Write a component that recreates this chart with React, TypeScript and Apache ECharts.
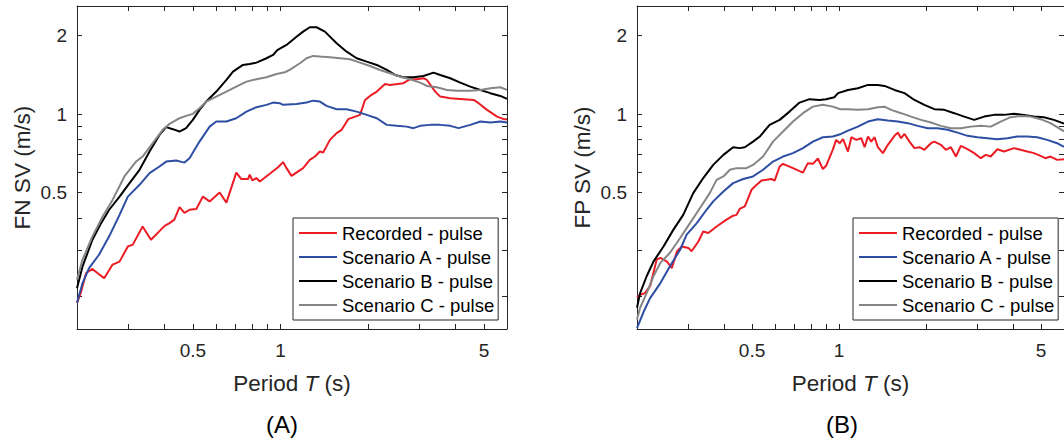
import React, { useEffect, useRef } from 'react';
import * as echarts from 'echarts';

const FONT = '"Liberation Sans", Arial, Helvetica, sans-serif';
const INK = '#262626';

// Axis definitions
const periodTicks = [0.3, 0.4, 0.5, 0.6, 0.7, 0.8, 0.9, 1, 2, 3, 4, 5];
const periodLabels = [0.5, 1, 5];
const svTicks = [0.2, 0.3, 0.4, 0.5, 0.6, 0.7, 0.8, 0.9, 1, 2];
const svLabels = [0.5, 1, 2];
const periodRange = [0.2, 6];
const svRange = [0.15, 2.6];

const seriesNames = ['Recorded - pulse', 'Scenario A - pulse', 'Scenario B - pulse', 'Scenario C - pulse'];
const seriesColors = ['#ec1c24', '#2e4ea3', '#000000', '#858585'];
const panelLabels = ['(A)', '(B)'];
const yTitles = ['FN SV (m/s)', 'FP SV (m/s)'];

// Panel A : fault-normal spectral velocity [period (s), SV (m/s)]
const fnRecorded = [[0.2,0.189],[0.206,0.206],[0.215,0.246],[0.226,0.255],[0.235,0.246],[0.248,0.235],[0.265,0.265],[0.28,0.272],[0.299,0.311],[0.311,0.316],[0.336,0.371],[0.359,0.33],[0.4,0.373],[0.416,0.382],[0.432,0.394],[0.45,0.44],[0.468,0.418],[0.487,0.43],[0.514,0.433],[0.541,0.483],[0.571,0.463],[0.618,0.501],[0.652,0.458],[0.705,0.597],[0.734,0.564],[0.774,0.564],[0.784,0.586],[0.801,0.557],[0.827,0.569],[0.849,0.552],[0.919,0.591],[0.981,0.626],[1.021,0.655],[1.049,0.621],[1.091,0.58],[1.196,0.621],[1.261,0.668],[1.313,0.688],[1.366,0.719],[1.402,0.713],[1.479,0.797],[1.559,0.846],[1.622,0.871],[1.709,0.957],[1.876,0.994],[1.952,1.134],[2.03,1.175],[2.142,1.221],[2.287,1.306],[2.379,1.295],[2.645,1.315],[2.789,1.362],[2.941,1.362],[3.099,1.374],[3.184,1.353],[3.401,1.221],[3.538,1.168],[3.83,1.152],[4.256,1.142],[4.607,1.134],[4.795,1.102],[5.123,1.039],[5.549,0.979],[5.846,0.957],[6,0.957]];
const fnScenarioA = [[0.2,0.189],[0.209,0.225],[0.22,0.257],[0.238,0.289],[0.258,0.34],[0.28,0.411],[0.299,0.483],[0.328,0.536],[0.355,0.594],[0.384,0.63],[0.405,0.658],[0.438,0.664],[0.468,0.652],[0.487,0.678],[0.527,0.785],[0.571,0.896],[0.602,0.937],[0.652,0.937],[0.705,0.965],[0.764,1.023],[0.827,1.064],[0.895,1.086],[0.943,1.108],[0.994,1.102],[1.021,1.086],[1.135,1.095],[1.229,1.108],[1.295,1.127],[1.366,1.118],[1.44,1.076],[1.559,1.045],[1.688,1.045],[1.827,1.023],[1.978,0.994],[2.142,0.965],[2.318,0.91],[2.51,0.902],[2.716,0.896],[2.862,0.884],[3.019,0.902],[3.268,0.91],[3.538,0.91],[3.83,0.902],[4.09,0.884],[4.488,0.91],[4.859,0.937],[5.26,0.929],[5.69,0.937],[6,0.93]];
const fnScenarioB = [[0.2,0.215],[0.209,0.261],[0.226,0.33],[0.242,0.382],[0.258,0.43],[0.28,0.483],[0.303,0.544],[0.328,0.612],[0.355,0.719],[0.384,0.833],[0.405,0.892],[0.427,0.876],[0.45,0.858],[0.474,0.884],[0.5,0.951],[0.527,1.039],[0.556,1.118],[0.602,1.221],[0.652,1.353],[0.687,1.456],[0.743,1.545],[0.784,1.558],[0.827,1.577],[0.895,1.639],[0.943,1.687],[0.975,1.76],[1.049,1.843],[1.135,1.983],[1.196,2.073],[1.261,2.155],[1.33,2.155],[1.421,2.073],[1.559,1.871],[1.688,1.737],[1.827,1.639],[1.978,1.591],[2.142,1.545],[2.318,1.478],[2.476,1.414],[2.645,1.386],[2.862,1.386],[3.099,1.402],[3.355,1.443],[3.538,1.414],[3.83,1.374],[4.147,1.322],[4.488,1.276],[4.859,1.239],[5.26,1.204],[5.69,1.175],[6,1.145]];
const fnScenarioC = [[0.2,0.232],[0.209,0.277],[0.226,0.34],[0.245,0.405],[0.265,0.469],[0.291,0.577],[0.319,0.658],[0.336,0.688],[0.364,0.774],[0.394,0.871],[0.416,0.918],[0.45,0.965],[0.474,0.985],[0.5,1.003],[0.527,1.054],[0.556,1.118],[0.602,1.168],[0.652,1.221],[0.705,1.276],[0.764,1.333],[0.827,1.362],[0.895,1.386],[0.969,1.427],[1.035,1.448],[1.076,1.478],[1.166,1.568],[1.229,1.639],[1.295,1.673],[1.366,1.663],[1.479,1.654],[1.601,1.639],[1.733,1.624],[1.876,1.577],[2.03,1.531],[2.198,1.478],[2.379,1.436],[2.576,1.393],[2.789,1.362],[3.019,1.322],[3.184,1.284],[3.446,1.269],[3.731,1.239],[4.039,1.231],[4.488,1.231],[4.859,1.239],[5.26,1.258],[5.69,1.269],[6,1.24]];

// Panel B : fault-parallel spectral velocity [period (s), SV (m/s)]
const fpRecorded = [[0.2,0.199],[0.205,0.203],[0.213,0.206],[0.222,0.219],[0.234,0.277],[0.241,0.281],[0.254,0.272],[0.264,0.257],[0.275,0.298],[0.286,0.311],[0.301,0.307],[0.309,0.298],[0.326,0.325],[0.339,0.355],[0.353,0.35],[0.377,0.371],[0.408,0.394],[0.43,0.408],[0.442,0.411],[0.453,0.433],[0.472,0.443],[0.498,0.513],[0.511,0.528],[0.539,0.557],[0.561,0.56],[0.583,0.564],[0.599,0.557],[0.623,0.63],[0.64,0.645],[0.693,0.621],[0.75,0.597],[0.78,0.649],[0.812,0.645],[0.845,0.676],[0.879,0.616],[0.902,0.634],[0.951,0.73],[0.977,0.797],[1.006,0.774],[1.032,0.802],[1.074,0.719],[1.103,0.816],[1.147,0.797],[1.193,0.809],[1.226,0.747],[1.259,0.821],[1.292,0.785],[1.327,0.816],[1.362,0.747],[1.418,0.709],[1.475,0.763],[1.555,0.826],[1.597,0.85],[1.639,0.809],[1.684,0.84],[1.752,0.785],[1.823,0.741],[1.897,0.747],[1.973,0.73],[2.08,0.774],[2.136,0.785],[2.251,0.763],[2.342,0.73],[2.437,0.747],[2.536,0.688],[2.638,0.756],[2.782,0.734],[2.934,0.709],[3.092,0.678],[3.217,0.698],[3.347,0.688],[3.53,0.734],[3.722,0.719],[4.03,0.741],[4.246,0.73],[4.478,0.719],[4.722,0.709],[4.977,0.692],[5.176,0.678],[5.388,0.688],[5.68,0.668],[6,0.672]];
const fpScenarioA = [[0.2,0.151],[0.211,0.175],[0.222,0.197],[0.241,0.225],[0.26,0.261],[0.282,0.302],[0.297,0.345],[0.322,0.382],[0.348,0.43],[0.367,0.463],[0.398,0.505],[0.43,0.544],[0.466,0.564],[0.504,0.577],[0.546,0.612],[0.591,0.658],[0.64,0.688],[0.693,0.709],[0.75,0.741],[0.812,0.785],[0.879,0.816],[0.951,0.821],[1.016,0.84],[1.074,0.865],[1.162,0.896],[1.259,0.937],[1.362,0.957],[1.475,0.945],[1.597,0.937],[1.729,0.924],[1.871,0.902],[2.026,0.884],[2.193,0.884],[2.374,0.871],[2.57,0.85],[2.782,0.826],[3.012,0.816],[3.261,0.809],[3.53,0.802],[3.821,0.809],[4.137,0.821],[4.478,0.821],[4.848,0.816],[5.248,0.797],[5.68,0.774],[6,0.75]];
const fpScenarioB = [[0.2,0.181],[0.205,0.206],[0.216,0.239],[0.228,0.272],[0.247,0.311],[0.267,0.36],[0.289,0.411],[0.313,0.498],[0.339,0.569],[0.367,0.639],[0.398,0.698],[0.43,0.747],[0.453,0.741],[0.472,0.747],[0.504,0.785],[0.532,0.821],[0.575,0.91],[0.623,0.951],[0.674,1.023],[0.73,1.108],[0.79,1.142],[0.855,1.134],[0.902,1.142],[0.964,1.162],[0.992,1.204],[1.074,1.239],[1.162,1.258],[1.259,1.295],[1.362,1.295],[1.437,1.284],[1.555,1.239],[1.684,1.204],[1.823,1.134],[1.973,1.086],[2.136,1.045],[2.313,1.039],[2.503,1.009],[2.71,0.979],[2.934,0.951],[3.176,0.979],[3.438,0.994],[3.722,0.994],[4.03,1.003],[4.362,0.994],[4.722,0.979],[5.112,0.974],[5.534,0.951],[6,0.92]];
const fpScenarioC = [[0.2,0.163],[0.205,0.181],[0.216,0.206],[0.228,0.239],[0.241,0.269],[0.26,0.294],[0.282,0.335],[0.305,0.382],[0.33,0.436],[0.357,0.498],[0.377,0.56],[0.398,0.577],[0.419,0.612],[0.442,0.621],[0.478,0.621],[0.504,0.639],[0.546,0.688],[0.591,0.785],[0.64,0.858],[0.693,0.937],[0.75,1.009],[0.812,1.069],[0.879,1.086],[0.951,1.069],[1.01,1.045],[1.074,1.045],[1.162,1.039],[1.259,1.045],[1.362,1.064],[1.437,1.069],[1.514,1.039],[1.639,1.009],[1.775,0.979],[1.92,0.951],[2.08,0.929],[2.251,0.902],[2.437,0.884],[2.638,0.884],[2.856,0.896],[3.092,0.902],[3.347,0.896],[3.623,0.937],[3.922,0.974],[4.246,0.985],[4.597,0.979],[4.977,0.957],[5.388,0.924],[6,0.86]];

const panels = [
  [fnRecorded, fnScenarioA, fnScenarioB, fnScenarioC],
  [fpRecorded, fpScenarioA, fpScenarioB, fpScenarioC],
];

const GRID_LEFT = [77, 637];
const GRID_TOP = 6;
const GRID_W = 430;
const GRID_H = 323;

function buildOption() {
  const grid: any[] = [];
  const xAxis: any[] = [];
  const yAxis: any[] = [];
  const series: any[] = [];
  const legend: any[] = [];
  const graphic: any[] = [];

  const tickStyle = { color: INK, width: 1 };
  const lineStyle = { color: INK, width: 1 };

  panels.forEach((panel, p) => {
    grid.push({ left: GRID_LEFT[p], top: GRID_TOP, width: GRID_W, height: GRID_H, containLabel: false });
    [false, true].forEach((mirror) => {
      xAxis.push({
        type: 'log', logBase: 10, gridIndex: p, position: mirror ? 'top' : 'bottom',
        min: periodRange[0], max: periodRange[1],
        axisLine: { show: true, onZero: false, lineStyle },
        axisTick: { show: true, inside: true, length: 5, customValues: periodTicks, lineStyle: tickStyle },
        axisLabel: {
          show: !mirror, customValues: periodLabels, margin: 12, color: INK,
          fontSize: 19, fontFamily: FONT, formatter: (v: number) => String(+Number(v).toPrecision(6)),
        },
        minorTick: { show: false }, splitLine: { show: false }, minorSplitLine: { show: false },
        name: mirror ? '' : 'Period {i|T} (s)', nameLocation: 'middle', nameGap: 43,
        nameTextStyle: {
          color: INK, fontSize: 22.5, fontFamily: FONT,
          rich: { i: { fontStyle: 'italic', fontSize: 22.5, fontFamily: FONT, color: INK } },
        },
        silent: true,
      });
      yAxis.push({
        type: 'log', logBase: 10, gridIndex: p, position: mirror ? 'right' : 'left',
        min: svRange[0], max: svRange[1],
        axisLine: { show: true, onZero: false, lineStyle },
        axisTick: { show: true, inside: true, length: 5, customValues: svTicks, lineStyle: tickStyle },
        axisLabel: {
          show: !mirror, customValues: svLabels, margin: 10, color: INK,
          fontSize: 19, fontFamily: FONT, formatter: (v: number) => String(+Number(v).toPrecision(6)),
        },
        minorTick: { show: false }, splitLine: { show: false }, minorSplitLine: { show: false },
        name: mirror ? '' : yTitles[p], nameLocation: 'middle', nameGap: 43, nameRotate: 90,
        nameTextStyle: { color: INK, fontSize: 22.5, fontFamily: FONT },
        silent: true,
      });
    });

    panel.forEach((data, s) => {
      series.push({
        type: 'line', name: seriesNames[s], xAxisIndex: p * 2, yAxisIndex: p * 2,
        data, symbol: 'none', showSymbol: false, color: seriesColors[s],
        lineStyle: { color: seriesColors[s], width: 2 }, clip: true, silent: true,
      });
    });

    legend.push({
      orient: 'vertical', left: [293, 853][p], top: 218, padding: [3, 4, 3, 6], itemGap: 0,
      itemWidth: 38, itemHeight: 2, icon: 'rect', selectedMode: false,
      backgroundColor: '#ffffff', borderColor: INK, borderWidth: 1, borderRadius: 0,
      textStyle: { color: '#000000', fontSize: 18.5, fontFamily: FONT, lineHeight: 24 },
      data: seriesNames,
    });

    graphic.push({
      type: 'text', x: [282, 842][p], y: 424,
      style: { text: panelLabels[p], fill: '#000000', fontSize: 24, fontFamily: FONT, align: 'center', verticalAlign: 'middle' },
    });
  });

  return { animation: false, backgroundColor: '#ffffff', grid, xAxis, yAxis, series, legend, graphic, tooltip: { show: false } };
}

export default function App() {
  const ref = useRef<HTMLDivElement>(null);
  useEffect(() => {
    document.body.style.margin = '0';
    const chart = echarts.init(ref.current!, null, { renderer: 'svg' });
    chart.setOption(buildOption() as any);
    return () => chart.dispose();
  }, []);
  return <div ref={ref} style={{ position: 'absolute', left: 0, top: 0, width: 1064, height: 443 }} />;
}
